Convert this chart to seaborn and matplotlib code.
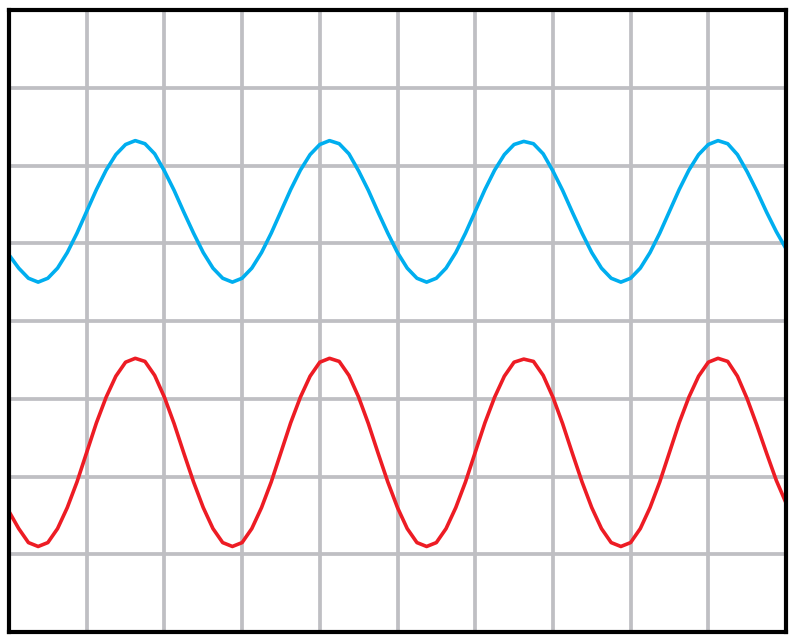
import matplotlib
matplotlib.use("Agg")
import matplotlib.pyplot as plt
import seaborn as sns
import pandas as pd

# time axis in screen divisions (10 horizontal divisions), one sample every 1/8 div
time_div = [i * 0.125 for i in range(81)]

# upper trace (blue) in vertical divisions
blue_trace = [
    4.85, 4.68, 4.55, 4.50, 4.55, 4.68, 4.88, 5.13, 5.41, 5.69,
    5.94, 6.14, 6.27, 6.32, 6.28, 6.15, 5.93, 5.68, 5.40, 5.13,
    4.88, 4.68, 4.55, 4.50, 4.55, 4.68, 4.88, 5.13, 5.41, 5.69,
    5.94, 6.14, 6.27, 6.32, 6.28, 6.15, 5.93, 5.68, 5.40, 5.13,
    4.88, 4.68, 4.55, 4.50, 4.55, 4.68, 4.88, 5.13, 5.41, 5.69,
    5.94, 6.14, 6.27, 6.31, 6.28, 6.15, 5.93, 5.68, 5.40, 5.13,
    4.88, 4.68, 4.55, 4.50, 4.55, 4.68, 4.88, 5.13, 5.41, 5.69,
    5.94, 6.14, 6.27, 6.32, 6.28, 6.14, 5.92, 5.67, 5.40, 5.15,
    4.93,
]

# lower trace (red)
red_trace = [
    1.55, 1.33, 1.15, 1.10, 1.15, 1.33, 1.60, 1.93, 2.31, 2.69,
    3.02, 3.29, 3.47, 3.52, 3.48, 3.30, 3.02, 2.68, 2.30, 1.93,
    1.60, 1.33, 1.15, 1.10, 1.15, 1.33, 1.60, 1.93, 2.31, 2.69,
    3.02, 3.29, 3.47, 3.52, 3.48, 3.30, 3.02, 2.68, 2.30, 1.93,
    1.60, 1.33, 1.15, 1.10, 1.15, 1.33, 1.60, 1.93, 2.31, 2.69,
    3.02, 3.29, 3.47, 3.51, 3.48, 3.30, 3.02, 2.68, 2.30, 1.93,
    1.60, 1.33, 1.15, 1.10, 1.15, 1.33, 1.60, 1.93, 2.31, 2.69,
    3.02, 3.29, 3.47, 3.52, 3.48, 3.29, 3.00, 2.66, 2.30, 1.95,
    1.66,
]

trace_names = ["blue", "red"]
trace_colors = {"blue": "#00aeef", "red": "#ed1c24"}

df = pd.DataFrame({
    "t": time_div * 2,
    "v": blue_trace + red_trace,
    "trace": ["blue"] * len(blue_trace) + ["red"] * len(red_trace),
})

sns.set_style("white")
fig = plt.figure(figsize=(8, 6.42), dpi=100)
ax = fig.add_axes([9 / 800, 10 / 642, 777 / 800, 622 / 642])

sns.lineplot(data=df, x="t", y="v", hue="trace", hue_order=trace_names,
             palette=trace_colors, linewidth=2.6, legend=False, ax=ax,
             estimator=None, sort=False)
for line in ax.get_lines():
    line.set_solid_joinstyle("round")

ax.set_xlim(0, 10)
ax.set_ylim(0, 8)
ax.set_xticks(range(11))
ax.set_yticks(range(9))
ax.grid(True, color="#bfbfc3", linewidth=2.7)
ax.set_axisbelow(True)
ax.tick_params(length=0, labelbottom=False, labelleft=False)
ax.set_xlabel("")
ax.set_ylabel("")
for s in ax.spines.values():
    s.set_visible(True)
    s.set_color("black")
    s.set_linewidth(3.0)

fig.savefig("out.png", dpi=100, facecolor="white")
